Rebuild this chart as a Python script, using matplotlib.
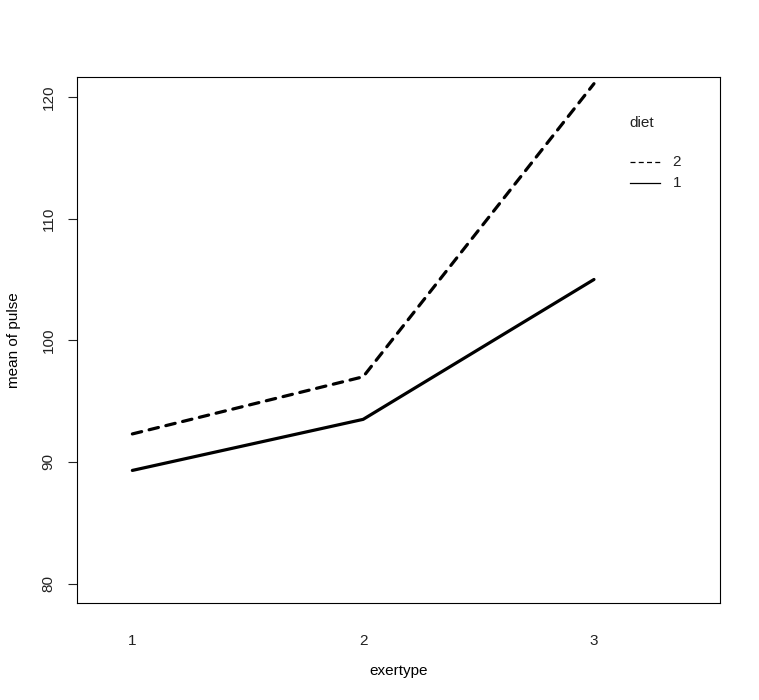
import matplotlib
matplotlib.use("Agg")
import matplotlib.pyplot as plt
from matplotlib.lines import Line2D

# interaction means
exertype = [1, 2, 3]
diet_levels = ["2", "1"]
pulse_diet2 = [92.3, 97.0, 121.1]
pulse_diet1 = [89.3, 93.5, 105.0]
yticks = [80, 90, 100, 110, 120]

plt.rcParams['font.family'] = ['Liberation Sans', 'DejaVu Sans']
plt.rcParams['font.size'] = 11
plt.rcParams['text.color'] = '#222222'
plt.rcParams['xtick.color'] = '#222222'
plt.rcParams['ytick.color'] = '#222222'

fig = plt.figure(figsize=(7.59, 7.0), dpi=100)
ax = fig.add_axes([0.1014, 0.1386, 0.8472, 0.7514])

dash = (0, (3.0, 2.4))
ax.plot(exertype, pulse_diet2, color='black', lw=2.3, linestyle=dash,
        dash_capstyle='round', solid_capstyle='round')
ax.plot(exertype, pulse_diet1, color='black', lw=2.3, solid_capstyle='round')

ax.set_xlim(0.76, 3.546)
ax.set_ylim(78.4, 121.65)

ax.set_xticks(exertype)
ax.set_xticklabels([str(v) for v in exertype])
ax.tick_params(axis='x', length=0, pad=22)
ax.set_yticks(yticks)
ax.tick_params(axis='y', length=6.5, width=0.8, pad=9, labelrotation=90)
for lab in ax.get_yticklabels():
    lab.set_va('center')

for s in ax.spines.values():
    s.set_linewidth(0.8)
    s.set_color('black')

ax.set_xlabel('exertype')
ax.set_ylabel('mean of pulse')
ax.xaxis.set_label_coords(0.5, -0.129)
ax.yaxis.set_label_coords(-0.098, 0.5)
ax.xaxis.label.set_va('center')
ax.yaxis.label.set_va('center')

# legend drawn the way R's interaction.plot does
ax.text(0.859, 0.912, 'diet', transform=ax.transAxes, va='center', ha='left')
styles = [(0, (4, 2.6)), '-']
ys = [0.838, 0.798]
for lab, ls, yy in zip(diet_levels, styles, ys):
    ax.add_line(Line2D([0.860, 0.907], [yy, yy], transform=ax.transAxes,
                       color='black', lw=0.9, linestyle=ls))
    ax.text(0.926, yy, lab, transform=ax.transAxes, va='center', ha='left')

fig.savefig('out.png', dpi=100)
